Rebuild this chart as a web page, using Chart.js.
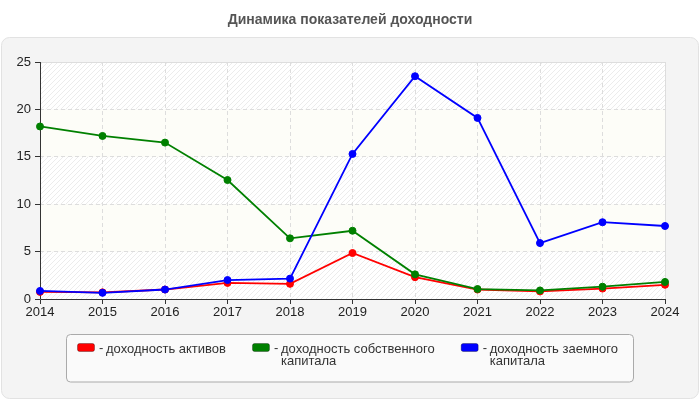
<!DOCTYPE html>
<html>
<head>
<meta charset="utf-8">
<script src="https://cdn.jsdelivr.net/npm/chart.js@4"></script>
<style>
html,body{margin:0;padding:0;background:#fff;}
#c{display:block;}
</style>
</head>
<body>
<canvas id="c" width="700" height="400"></canvas>
<script>
const titleText = "Динамика показателей доходности";
const years = ["2014","2015","2016","2017","2018","2019","2020","2021","2022","2023","2024"];
const assetsReturn = [0.75, 0.7, 1.0, 1.7, 1.6, 4.85, 2.3, 1.0, 0.8, 1.1, 1.5];
const equityReturn = [18.2, 17.2, 16.5, 12.55, 6.4, 7.2, 2.6, 1.05, 0.9, 1.3, 1.8];
const debtReturn = [0.85, 0.65, 1.0, 2.0, 2.15, 15.3, 23.5, 19.1, 5.9, 8.1, 7.7];
const seriesLabels = ["доходность активов", "доходность собственного капитала", "доходность заемного капитала"];
const seriesColors = ["#ff0000", "#008000", "#0000ff"];
const yTicks = [0, 5, 10, 15, 20, 25];

const FONT = '"Liberation Sans", Arial, sans-serif';

function hatchPattern(ctx) {
  const p = document.createElement('canvas');
  p.width = 5; p.height = 5;
  const g = p.getContext('2d');
  g.fillStyle = '#ffffff';
  g.fillRect(0, 0, 5, 5);
  g.strokeStyle = '#ececec';
  g.lineWidth = 1;
  g.beginPath();
  g.moveTo(-1, 6); g.lineTo(6, -1);
  g.moveTo(-1, 1); g.lineTo(1, -1);
  g.moveTo(4, 6); g.lineTo(6, 4);
  g.stroke();
  return ctx.createPattern(p, 'repeat');
}

function roundRect(ctx, x, y, w, h, r) {
  ctx.beginPath();
  ctx.moveTo(x + r, y);
  ctx.lineTo(x + w - r, y);
  ctx.arcTo(x + w, y, x + w, y + r, r);
  ctx.lineTo(x + w, y + h - r);
  ctx.arcTo(x + w, y + h, x + w - r, y + h, r);
  ctx.lineTo(x + r, y + h);
  ctx.arcTo(x, y + h, x, y + h - r, r);
  ctx.lineTo(x, y + r);
  ctx.arcTo(x, y, x + r, y, r);
  ctx.closePath();
}

const decorPlugin = {
  id: 'decor',
  beforeDraw(chart) {
    const ctx = chart.ctx;
    const ca = chart.chartArea;
    const ys = chart.scales.y;
    ctx.save();
    // outer panel
    roundRect(ctx, 1.5, 37.5, 697, 361, 8);
    ctx.fillStyle = '#f4f4f4';
    ctx.fill();
    ctx.strokeStyle = '#e2e2e2';
    ctx.lineWidth = 1;
    ctx.stroke();
    // title
    ctx.fillStyle = '#555555';
    ctx.font = 'bold 14px ' + FONT;
    ctx.textAlign = 'center';
    ctx.textBaseline = 'middle';
    ctx.fillText(titleText, 350, 20);
    // bands
    const pat = hatchPattern(ctx);
    for (let i = 0; i < yTicks.length - 1; i++) {
      const yTop = ys.getPixelForValue(yTicks[i + 1]);
      const yBot = ys.getPixelForValue(yTicks[i]);
      ctx.fillStyle = (i % 2 === 0) ? pat : '#fdfdf8';
      ctx.fillRect(ca.left, yTop, ca.right - ca.left, yBot - yTop);
    }
    ctx.restore();
  },
  beforeDatasetsDraw(chart) {
    const ctx = chart.ctx;
    const ca = chart.chartArea;
    ctx.save();
    ctx.strokeStyle = '#dddddd';
    ctx.lineWidth = 1;
    ctx.beginPath();
    ctx.moveTo(ca.left, ca.top + 0.5);
    ctx.lineTo(ca.right + 0.5, ca.top + 0.5);
    ctx.lineTo(ca.right + 0.5, ca.bottom);
    ctx.stroke();
    ctx.strokeStyle = '#333333';
    ctx.beginPath();
    ctx.moveTo(ca.left + 0.5, ca.top);
    ctx.lineTo(ca.left + 0.5, ca.bottom + 0.5);
    ctx.lineTo(ca.right + 0.5, ca.bottom + 0.5);
    ctx.stroke();
    ctx.restore();
  },
  afterDraw(chart) {
    const ctx = chart.ctx;
    ctx.save();
    // legend box
    roundRect(ctx, 66.5, 334.5, 567, 47.5, 4);
    ctx.fillStyle = '#fafafa';
    ctx.fill();
    ctx.strokeStyle = '#aaaaaa';
    ctx.lineWidth = 1;
    ctx.stroke();
    ctx.font = '13px ' + FONT;
    ctx.textBaseline = 'middle';
    ctx.textAlign = 'left';
    let x = 77;
    const y0 = 348;
    const maxW = 158;
    chart.data.datasets.forEach((ds) => {
      // colour box
      roundRect(ctx, x + 0.5, y0 - 4.5, 17, 8, 2);
      ctx.fillStyle = ds.borderColor;
      ctx.fill();
      ctx.strokeStyle = 'rgba(0,0,0,0.3)';
      ctx.stroke();
      ctx.fillStyle = '#333333';
      ctx.fillText('-', x + 22, y0);
      // wrap text
      const words = ds.label.split(' ');
      const lines = [];
      let cur = '';
      words.forEach(w => {
        const t = cur ? cur + ' ' + w : w;
        if (ctx.measureText(t).width > maxW && cur) { lines.push(cur); cur = w; }
        else cur = t;
      });
      if (cur) lines.push(cur);
      let tw = 0;
      lines.forEach((l, i) => {
        ctx.fillText(l, x + 29, y0 + 1 + i * 12.5);
        tw = Math.max(tw, ctx.measureText(l).width);
      });
      x = x + 29 + tw + 26;
    });
    ctx.restore();
  }
};

const mkDs = (label, data, color, order) => ({
  label, data, order,
  borderColor: color,
  backgroundColor: color,
  borderWidth: 1.8,
  pointRadius: 3.5,
  pointBorderWidth: 1,
  pointBackgroundColor: color,
  pointBorderColor: color,
  tension: 0,
  fill: false
});

new Chart(document.getElementById('c'), {
  type: 'line',
  data: {
    labels: years,
    datasets: [
      mkDs(seriesLabels[0], assetsReturn, seriesColors[0], 2),
      mkDs(seriesLabels[1], equityReturn, seriesColors[1], 1),
      mkDs(seriesLabels[2], debtReturn, seriesColors[2], 0)
    ]
  },
  options: {
    responsive: false,
    animation: false,
    devicePixelRatio: 1,
    layout: { padding: { top: 62, right: 35, left: 0, bottom: 0 } },
    plugins: { legend: { display: false }, title: { display: false }, tooltip: { enabled: false } },
    scales: {
      x: {
        offset: false,
        afterFit(s) { s.height = 101; },
        grid: { color: '#dddddd', lineWidth: 1, drawTicks: true, tickLength: 5, tickColor: '#333333', tickBorderDash: [] },
        border: { display: false, dash: [4, 3] },
        ticks: { color: '#222222', font: { family: FONT, size: 13 }, padding: 1, maxRotation: 0, autoSkip: false }
      },
      y: {
        min: yTicks[0], max: yTicks[yTicks.length - 1],
        afterFit(s) { s.width = 40; },
        afterBuildTicks(s) { s.ticks = yTicks.map(v => ({ value: v })); },
        grid: { color: '#dddddd', lineWidth: 1, drawTicks: true, tickLength: 5, tickColor: '#333333', tickBorderDash: [] },
        border: { display: false, dash: [4, 3] },
        ticks: { color: '#222222', font: { family: FONT, size: 13 }, padding: 4 }
      }
    }
  },
  plugins: [decorPlugin]
});
</script>
</body>
</html>
